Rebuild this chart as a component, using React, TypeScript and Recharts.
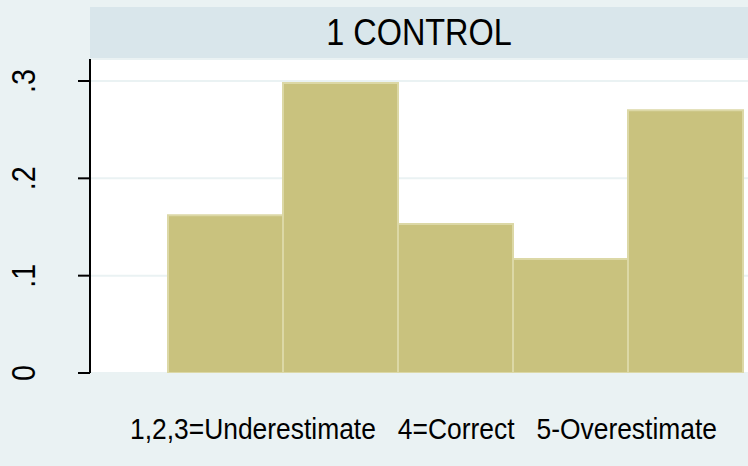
import { BarChart, Bar, XAxis, YAxis, CartesianGrid } from "recharts";

const categories = ["1", "2", "3", "4", "5"];
const density = [0.162, 0.298, 0.153, 0.117, 0.27];
const yTicks = [0, 0.1, 0.2, 0.3];
const panelTitle = "1 CONTROL";
const xLabel = "1,2,3=Underestimate   4=Correct   5-Overestimate";

const BG = "#EAF2F3";
const BAND = "#D9E6EB";
const FONT = '"Liberation Sans", Arial, sans-serif';

const data = categories.map((c, i) => ({ cat: c, density: density[i] }));

// stata style: drop the leading zero
const fmt = (v: number) => (v === 0 ? "0" : String(v).replace(/^0/, ""));

function RotatedTick(props: any) {
  const { y, payload } = props;
  return (
    <text
      x={0}
      y={0}
      transform={`translate(35, ${y}) rotate(-90) scale(0.87, 1)`}
      textAnchor="middle"
      fontSize={33}
      fontFamily={FONT}
      fill="#000"
    >
      {fmt(payload.value)}
    </text>
  );
}

export default function App() {
  return (
    <div
      style={{
        position: "relative",
        width: 748,
        height: 466,
        background: BG,
        fontFamily: FONT,
        overflow: "hidden",
      }}
    >
      <style>{`body{margin:0}`}</style>
      <div
        style={{
          position: "absolute",
          left: 90,
          top: 7,
          width: 658,
          height: 52,
          background: BAND,
          display: "flex",
          alignItems: "center",
          justifyContent: "center",
          color: "#000",
        }}
      >
        <span style={{ fontSize: 36, display: "inline-block", transform: "scaleX(0.9)" }}>
          {panelTitle}
        </span>
      </div>
      <div style={{ position: "absolute", left: 0, top: 0 }}>
        <BarChart
          width={748}
          height={466}
          data={data}
          margin={{ top: 59, right: 0, bottom: 93, left: 0 }}
          barCategoryGap={0}
        >
          <CartesianGrid
            vertical={false}
            fill="#ffffff"
            stroke={BG}
            strokeWidth={2}
          />
          <XAxis dataKey="cat" hide padding={{ left: 78, right: 5 }} />
          <YAxis
            width={90}
            domain={[0, 0.3226]}
            ticks={yTicks}
            allowDataOverflow
            axisLine={{ stroke: "#000", strokeWidth: 2 }}
            tickLine={{ stroke: "#000", strokeWidth: 2 }}
            tickSize={12}
            tick={<RotatedTick />}
          />
          <Bar
            dataKey="density"
            fill="#C9C27E"
            stroke="#DCD8A6"
            strokeWidth={2}
            isAnimationActive={false}
          />
        </BarChart>
      </div>
      <div
        style={{
          position: "absolute",
          left: 90,
          width: 658,
          top: 412,
          textAlign: "center",
          color: "#000",
        }}
      >
        <span
          style={{
            fontSize: 30,
            whiteSpace: "pre",
            display: "inline-block",
            transform: "scaleX(0.88)",
          }}
        >
          {xLabel}
        </span>
      </div>
    </div>
  );
}
